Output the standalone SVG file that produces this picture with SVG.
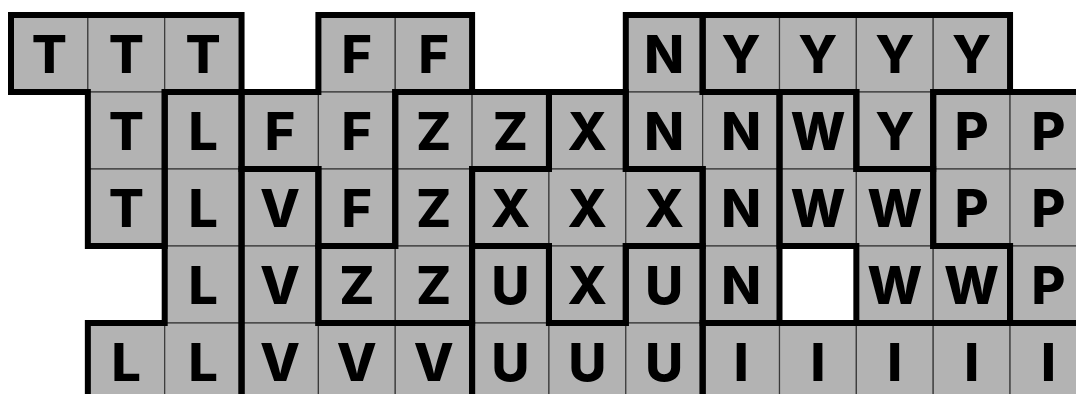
<svg xmlns="http://www.w3.org/2000/svg" width="1076" height="394" viewBox="0 0 1076 394">
<style>
.c{fill:#b3b3b3;stroke:#3a3a3a;stroke-width:1.2}
.o{fill:none;stroke:#000;stroke-width:6;stroke-linejoin:miter}
.t{font-family:Inter,"Liberation Sans",sans-serif;font-weight:800;font-size:52px;fill:#000;text-anchor:middle}
</style>
<rect width="1076" height="394" fill="#fff"/>
<g id="piece-T">
<rect class="c" x="11" y="15" width="76.85" height="77"/><rect class="c" x="87.85" y="15" width="76.85" height="77"/><rect class="c" x="164.7" y="15" width="76.85" height="77"/>
<rect class="c" x="87.85" y="92" width="76.85" height="77"/><rect class="c" x="87.85" y="169" width="76.85" height="77"/>
<text class="t" x="49.4" y="73">T</text><text class="t" x="126.3" y="73">T</text><text class="t" x="203.1" y="73">T</text>
<text class="t" x="126.3" y="150">T</text><text class="t" x="126.3" y="227">T</text>
</g>
<g id="piece-F">
<rect class="c" x="318.4" y="15" width="76.85" height="77"/><rect class="c" x="395.25" y="15" width="76.85" height="77"/>
<rect class="c" x="241.55" y="92" width="76.85" height="77"/><rect class="c" x="318.4" y="92" width="76.85" height="77"/>
<rect class="c" x="318.4" y="169" width="76.85" height="77"/>
<text class="t" x="356.8" y="73">F</text><text class="t" x="433.7" y="73">F</text>
<text class="t" x="280" y="150">F</text><text class="t" x="356.8" y="150">F</text>
<text class="t" x="356.8" y="227">F</text>
</g>
<g id="piece-Z">
<rect class="c" x="395.25" y="92" width="76.85" height="77"/><rect class="c" x="472.1" y="92" width="76.85" height="77"/>
<rect class="c" x="395.25" y="169" width="76.85" height="77"/>
<rect class="c" x="318.4" y="246" width="76.85" height="77"/><rect class="c" x="395.25" y="246" width="76.85" height="77"/>
<text class="t" x="433.7" y="150">Z</text><text class="t" x="510.5" y="150">Z</text>
<text class="t" x="433.7" y="227">Z</text>
<text class="t" x="356.8" y="304">Z</text><text class="t" x="433.7" y="304">Z</text>
</g>
<g id="piece-X">
<rect class="c" x="548.95" y="92" width="76.85" height="77"/>
<rect class="c" x="472.1" y="169" width="76.85" height="77"/><rect class="c" x="548.95" y="169" width="76.85" height="77"/><rect class="c" x="625.8" y="169" width="76.85" height="77"/>
<rect class="c" x="548.95" y="246" width="76.85" height="77"/>
<text class="t" x="587.4" y="150">X</text>
<text class="t" x="510.5" y="227">X</text><text class="t" x="587.4" y="227">X</text><text class="t" x="664.2" y="227">X</text>
<text class="t" x="587.4" y="304">X</text>
</g>
<g id="piece-N">
<rect class="c" x="625.8" y="15" width="76.85" height="77"/>
<rect class="c" x="625.8" y="92" width="76.85" height="77"/><rect class="c" x="702.65" y="92" width="76.85" height="77"/>
<rect class="c" x="702.65" y="169" width="76.85" height="77"/><rect class="c" x="702.65" y="246" width="76.85" height="77"/>
<text class="t" x="664.2" y="73">N</text>
<text class="t" x="664.2" y="150">N</text><text class="t" x="741.1" y="150">N</text>
<text class="t" x="741.1" y="227">N</text><text class="t" x="741.1" y="304">N</text>
</g>
<g id="piece-Y">
<rect class="c" x="702.65" y="15" width="76.85" height="77"/><rect class="c" x="779.5" y="15" width="76.85" height="77"/><rect class="c" x="856.35" y="15" width="76.85" height="77"/><rect class="c" x="933.2" y="15" width="76.85" height="77"/>
<rect class="c" x="856.35" y="92" width="76.85" height="77"/>
<text class="t" x="741.1" y="73">Y</text><text class="t" x="817.9" y="73">Y</text><text class="t" x="894.8" y="73">Y</text><text class="t" x="971.6" y="73">Y</text>
<text class="t" x="894.8" y="150">Y</text>
</g>
<g id="piece-W">
<rect class="c" x="779.5" y="92" width="76.85" height="77"/>
<rect class="c" x="779.5" y="169" width="76.85" height="77"/><rect class="c" x="856.35" y="169" width="76.85" height="77"/>
<rect class="c" x="856.35" y="246" width="76.85" height="77"/><rect class="c" x="933.2" y="246" width="76.85" height="77"/>
<text class="t" x="817.9" y="150">W</text>
<text class="t" x="817.9" y="227">W</text><text class="t" x="894.8" y="227">W</text>
<text class="t" x="894.8" y="304">W</text><text class="t" x="971.6" y="304">W</text>
</g>
<g id="piece-P">
<rect class="c" x="933.2" y="92" width="76.85" height="77"/><rect class="c" x="1010.05" y="92" width="76.85" height="77"/>
<rect class="c" x="933.2" y="169" width="76.85" height="77"/><rect class="c" x="1010.05" y="169" width="76.85" height="77"/>
<rect class="c" x="1010.05" y="246" width="76.85" height="77"/>
<text class="t" x="971.6" y="150">P</text><text class="t" x="1048.5" y="150">P</text>
<text class="t" x="971.6" y="227">P</text><text class="t" x="1048.5" y="227">P</text>
<text class="t" x="1048.5" y="304">P</text>
</g>
<g id="piece-L">
<rect class="c" x="164.7" y="92" width="76.85" height="77"/><rect class="c" x="164.7" y="169" width="76.85" height="77"/><rect class="c" x="164.7" y="246" width="76.85" height="77"/>
<rect class="c" x="87.85" y="323" width="76.85" height="77"/><rect class="c" x="164.7" y="323" width="76.85" height="77"/>
<text class="t" x="203.1" y="150">L</text><text class="t" x="203.1" y="227">L</text><text class="t" x="203.1" y="304">L</text>
<text class="t" x="126.3" y="381">L</text><text class="t" x="203.1" y="381">L</text>
</g>
<g id="piece-V">
<rect class="c" x="241.55" y="169" width="76.85" height="77"/><rect class="c" x="241.55" y="246" width="76.85" height="77"/>
<rect class="c" x="241.55" y="323" width="76.85" height="77"/><rect class="c" x="318.4" y="323" width="76.85" height="77"/><rect class="c" x="395.25" y="323" width="76.85" height="77"/>
<text class="t" x="280" y="227">V</text><text class="t" x="280" y="304">V</text>
<text class="t" x="280" y="381">V</text><text class="t" x="356.8" y="381">V</text><text class="t" x="433.7" y="381">V</text>
</g>
<g id="piece-U">
<rect class="c" x="472.1" y="246" width="76.85" height="77"/><rect class="c" x="625.8" y="246" width="76.85" height="77"/>
<rect class="c" x="472.1" y="323" width="76.85" height="77"/><rect class="c" x="548.95" y="323" width="76.85" height="77"/><rect class="c" x="625.8" y="323" width="76.85" height="77"/>
<text class="t" x="510.5" y="304">U</text><text class="t" x="664.2" y="304">U</text>
<text class="t" x="510.5" y="381">U</text><text class="t" x="587.4" y="381">U</text><text class="t" x="664.2" y="381">U</text>
</g>
<g id="piece-I">
<rect class="c" x="702.65" y="323" width="76.85" height="77"/><rect class="c" x="779.5" y="323" width="76.85" height="77"/><rect class="c" x="856.35" y="323" width="76.85" height="77"/><rect class="c" x="933.2" y="323" width="76.85" height="77"/><rect class="c" x="1010.05" y="323" width="76.85" height="77"/>
<text class="t" x="741.1" y="381">I</text><text class="t" x="817.9" y="381">I</text><text class="t" x="894.8" y="381">I</text><text class="t" x="971.6" y="381">I</text><text class="t" x="1048.5" y="381">I</text>
</g>
<g id="outlines">
<polygon class="o" points="11,15 241.55,15 241.55,92 164.7,92 164.7,246 87.85,246 87.85,92 11,92"/>
<polygon class="o" points="318.4,15 472.1,15 472.1,92 395.25,92 395.25,246 318.4,246 318.4,169 241.55,169 241.55,92 318.4,92"/>
<polygon class="o" points="395.25,92 548.95,92 548.95,169 472.1,169 472.1,323 318.4,323 318.4,246 395.25,246"/>
<polygon class="o" points="548.95,92 625.8,92 625.8,169 702.65,169 702.65,246 625.8,246 625.8,323 548.95,323 548.95,246 472.1,246 472.1,169 548.95,169"/>
<polygon class="o" points="625.8,15 702.65,15 702.65,92 779.5,92 779.5,323 702.65,323 702.65,169 625.8,169"/>
<polygon class="o" points="702.65,15 1010.05,15 1010.05,92 933.2,92 933.2,169 856.35,169 856.35,92 702.65,92"/>
<polygon class="o" points="779.5,92 856.35,92 856.35,169 933.2,169 933.2,246 1010.05,246 1010.05,323 856.35,323 856.35,246 779.5,246"/>
<polygon class="o" points="933.2,92 1086.9,92 1086.9,323 1010.05,323 1010.05,246 933.2,246"/>
<polygon class="o" points="164.7,92 241.55,92 241.55,400 87.85,400 87.85,323 164.7,323"/>
<polygon class="o" points="241.55,169 318.4,169 318.4,323 472.1,323 472.1,400 241.55,400"/>
<polygon class="o" points="472.1,246 548.95,246 548.95,323 625.8,323 625.8,246 702.65,246 702.65,400 472.1,400"/>
<polygon class="o" points="702.65,323 1086.9,323 1086.9,400 702.65,400"/>
</g>
</svg>
